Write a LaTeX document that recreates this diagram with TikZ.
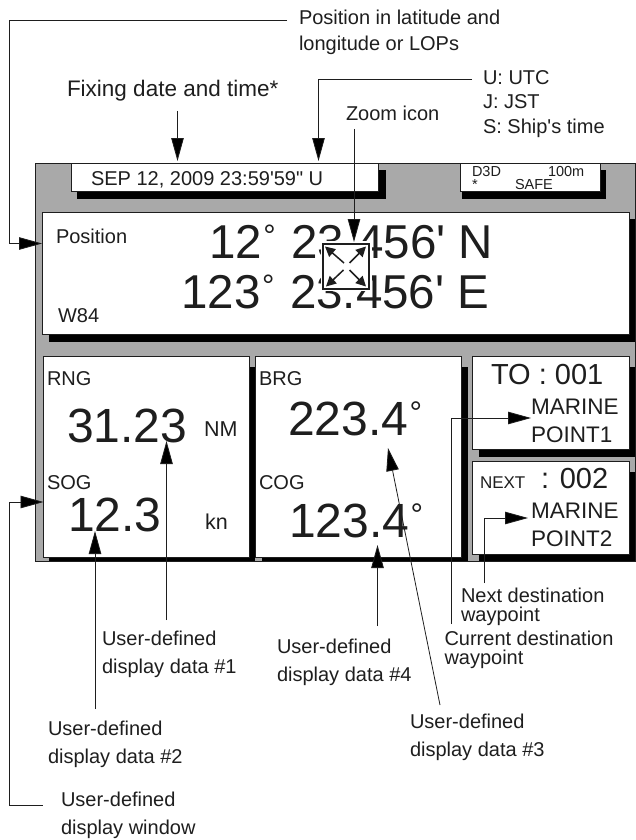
\documentclass[tikz,border=0pt]{standalone}
\usepackage{fontspec}
\newfontfamily\lib{Liberation Sans}
\usetikzlibrary{arrows.meta}
\definecolor{panelgray}{HTML}{A9A9A9}
\definecolor{ink}{HTML}{1E1E1E}
\newcommand\fz[1]{\fontsize{#1}{#1}\lib}
\newcommand\dg{\raisebox{.25em}{\fontsize{.65em}{.65em}\selectfont °}}
\tikzset{
  lab/.style={anchor=base west,inner sep=0pt,outer sep=0pt,text=ink,font=\fz{20}},
  small/.style={lab,font=\fz{14.5}},
  mid/.style={lab,font=\fz{22.5}},
  head/.style={lab,font=\fz{29}},
  big/.style={lab,font=\fz{48}},
  bigpos/.style={lab,font=\fz{47.5}},
  screen/.style={draw=ink,line width=.8pt,fill=white,inner sep=0pt,outer sep=0pt},
  shade/.style={fill=black,draw=none},
  conn/.style={draw=ink,line width=.8pt},
  tip/.style={-{Triangle[length=23pt,width=12.5pt,fill=black]}},
  mini/.style={draw=ink,line width=1.5pt,-{Triangle[length=10pt,width=10pt,fill=ink]}}
}
\begin{document}
\begin{tikzpicture}[x=1pt,y=-1pt]
\useasboundingbox (0,0) rectangle (635,840);
% panel
\node[draw=ink,line width=.8pt,fill=panelgray,inner sep=0pt,outer sep=0pt,minimum width=600pt,minimum height=398pt] (panel) at (335,362) {};
% shadows
\fill[shade] (77,170) rectangle (386,199);
\fill[shade] (462,170) rectangle (606,199);
\fill[shade] (49,219) rectangle (635,342);
\fill[shade] (49,367) rectangle (255,561);
\fill[shade] (262,367) rectangle (468,561);
\fill[shade] (479,367) rectangle (635,457);
\fill[shade] (479,472) rectangle (635,561);
% screens
\node[screen,minimum width=307pt,minimum height=28pt] (datebox) at (224.5,177) {};
\node[screen,minimum width=140pt,minimum height=28pt] (fixbox) at (530,177) {};
\node[screen,minimum width=587pt,minimum height=122pt] (posbox) at (335.5,273) {};
\node[screen,minimum width=205.5pt,minimum height=201pt] (leftbox) at (146.25,456.5) {};
\node[screen,minimum width=206pt,minimum height=201pt] (midbox) at (358,456.5) {};
\node[screen,minimum width=156.5pt,minimum height=93pt] (tobox) at (550.75,402.5) {};
\node[screen,minimum width=156.5pt,minimum height=93pt] (nextbox) at (550.75,507.5) {};
% panel texts
\node[lab] (tdate) at (91,185) {SEP 12, 2009 23:59'59" U};
\node[small] (td3d) at (472,176) {D3D};
\node[small] (tstar) at (472,189) {*};
\node[small] (t100) at (548,176) {100m};
\node[small] (tsafe) at (515,189) {SAFE};
\node[lab] (tpos) at (56,243) {Position};
\node[lab] (tw84) at (58,322) {W84};
\node[bigpos] (tlat) at (209,258) {12\hspace{.03em}\dg\hspace{.05em} 23.456' N};
\node[bigpos] (tlon) at (181.5,308) {123\hspace{.03em}\dg\hspace{.05em} 23.456' E};
\node[lab] (trng) at (47,385) {RNG};
\node[big] (trngv) at (67,442) {31.23};
\node[lab,font=\fz{21.5}] (tnm) at (204,436) {NM};
\node[lab] (tsog) at (47,489) {SOG};
\node[big] (tsogv) at (68,531) {12.3};
\node[lab,font=\fz{21.5}] (tkn) at (205,529) {kn};
\node[lab] (tbrg) at (259,385) {BRG};
\node[big] (tbrgv) at (288,435) {223.4\hspace{.03em}\dg};
\node[lab] (tcog) at (259,489) {COG};
\node[big] (tcogv) at (289,537) {123.4\hspace{.03em}\dg};
\node[head] (tto) at (491,384) {TO : 001};
\node[mid] (tm1) at (531,414) {MARINE};
\node[mid] (tp1) at (531,442) {POINT1};
\node[lab,font=\fz{17}] (tnext) at (480,488) {NEXT};
\node[head] (tn2) at (541,488) {: 002};
\node[mid] (tm2) at (531,518) {MARINE};
\node[mid] (tp2) at (531,546) {POINT2};
% labels
\node[lab] (lposa) at (299,25) {Position in latitude and};
\node[lab] (lposb) at (299,51) {longitude or LOPs};
\node[mid] (lfix) at (67,97) {Fixing date and time*};
\node[lab] (lu) at (483,85) {U: UTC};
\node[lab] (lj) at (483,109) {J: JST};
\node[lab] (ls) at (483,133) {S: Ship's time};
\node[lab] (lzoom) at (346,121) {Zoom icon};
\node[lab] (la1) at (102,645) {User-defined};
\node[lab] (lb1) at (102,673) {display data \#1};
\node[lab] (la2) at (48,735) {User-defined};
\node[lab] (lb2) at (48,763) {display data \#2};
\node[lab] (la4) at (277,653) {User-defined};
\node[lab] (lb4) at (277,681) {display data \#4};
\node[lab] (la3) at (410,728) {User-defined};
\node[lab] (lb3) at (410,756) {display data \#3};
\node[lab] (lna) at (461,602.5) {Next destination};
\node[lab] (lnb) at (461,621) {waypoint};
\node[lab] (lca) at (444.5,645.5) {Current destination};
\node[lab] (lcb) at (444.5,664) {waypoint};
\node[lab] (lwa) at (61,806) {User-defined};
\node[lab] (lwb) at (61,834) {display window};
% zoom icon
\node[fill=white,inner sep=0pt,outer sep=0pt,minimum width=51pt,minimum height=50pt] (zoomhalo) at (346,266) {};
\node[draw=ink,line width=2pt,fill=white,inner sep=0pt,outer sep=0pt,minimum width=46pt,minimum height=45pt] (zoombox) at (346,266) {};
\coordinate (zc1) at (344,263); \coordinate (zo1) at (325,246.5);
\coordinate (zc2) at (349.5,263); \coordinate (zo2) at (366,246.5);
\coordinate (zc3) at (343.5,270); \coordinate (zo3) at (326,286.5);
\coordinate (zc4) at (349.5,270); \coordinate (zo4) at (366,286.5);
\draw[mini] (zc1) -- (zo1);
\draw[mini] (zc2) -- (zo2);
\draw[mini] (zc3) -- (zo3);
\draw[mini] (zc4) -- (zo4);
% connector coordinates
\coordinate (p0) at (287,20); \coordinate (p1) at (9,20); \coordinate (p2) at (9,243.5); \coordinate (p3) at (42,243.5);
\coordinate (f0) at (177.5,111); \coordinate (f1) at (177.5,161);
\coordinate (u0) at (472,79.5); \coordinate (u1) at (318.5,79.5); \coordinate (u2) at (318.5,161);
\coordinate (z0) at (354,129); \coordinate (z1) at (354,242);
\coordinate (t0) at (451,624); \coordinate (t1) at (451,418); \coordinate (t2) at (531,418);
\coordinate (n0) at (484,583); \coordinate (n1) at (484,518); \coordinate (n2) at (528,518);
\coordinate (d1a) at (166.5,620); \coordinate (d1b) at (166.5,441);
\coordinate (d2a) at (95,709); \coordinate (d2b) at (95,531);
\coordinate (d4a) at (377.5,626); \coordinate (d4b) at (377.5,545);
\coordinate (d3a) at (440,705); \coordinate (d3b) at (388,448);
\coordinate (w0) at (42.5,805); \coordinate (w1) at (9,805); \coordinate (w2) at (9,502); \coordinate (w3) at (43.5,502);
% connectors
\draw[conn,tip] (p0) -- (p1) -- (p2) -- (p3);
\draw[conn,tip] (f0) -- (f1);
\draw[conn,tip] (u0) -- (u1) -- (u2);
\draw[conn,tip] (z0) -- (z1);
\draw[conn,tip] (t0) -- (t1) -- (t2);
\draw[conn,tip] (n0) -- (n1) -- (n2);
\draw[conn,tip] (d1a) -- (d1b);
\draw[conn,tip] (d2a) -- (d2b);
\draw[conn,tip] (d4a) -- (d4b);
\draw[conn,tip] (d3a) -- (d3b);
\draw[conn,tip] (w0) -- (w1) -- (w2) -- (w3);
\end{tikzpicture}
\end{document}
